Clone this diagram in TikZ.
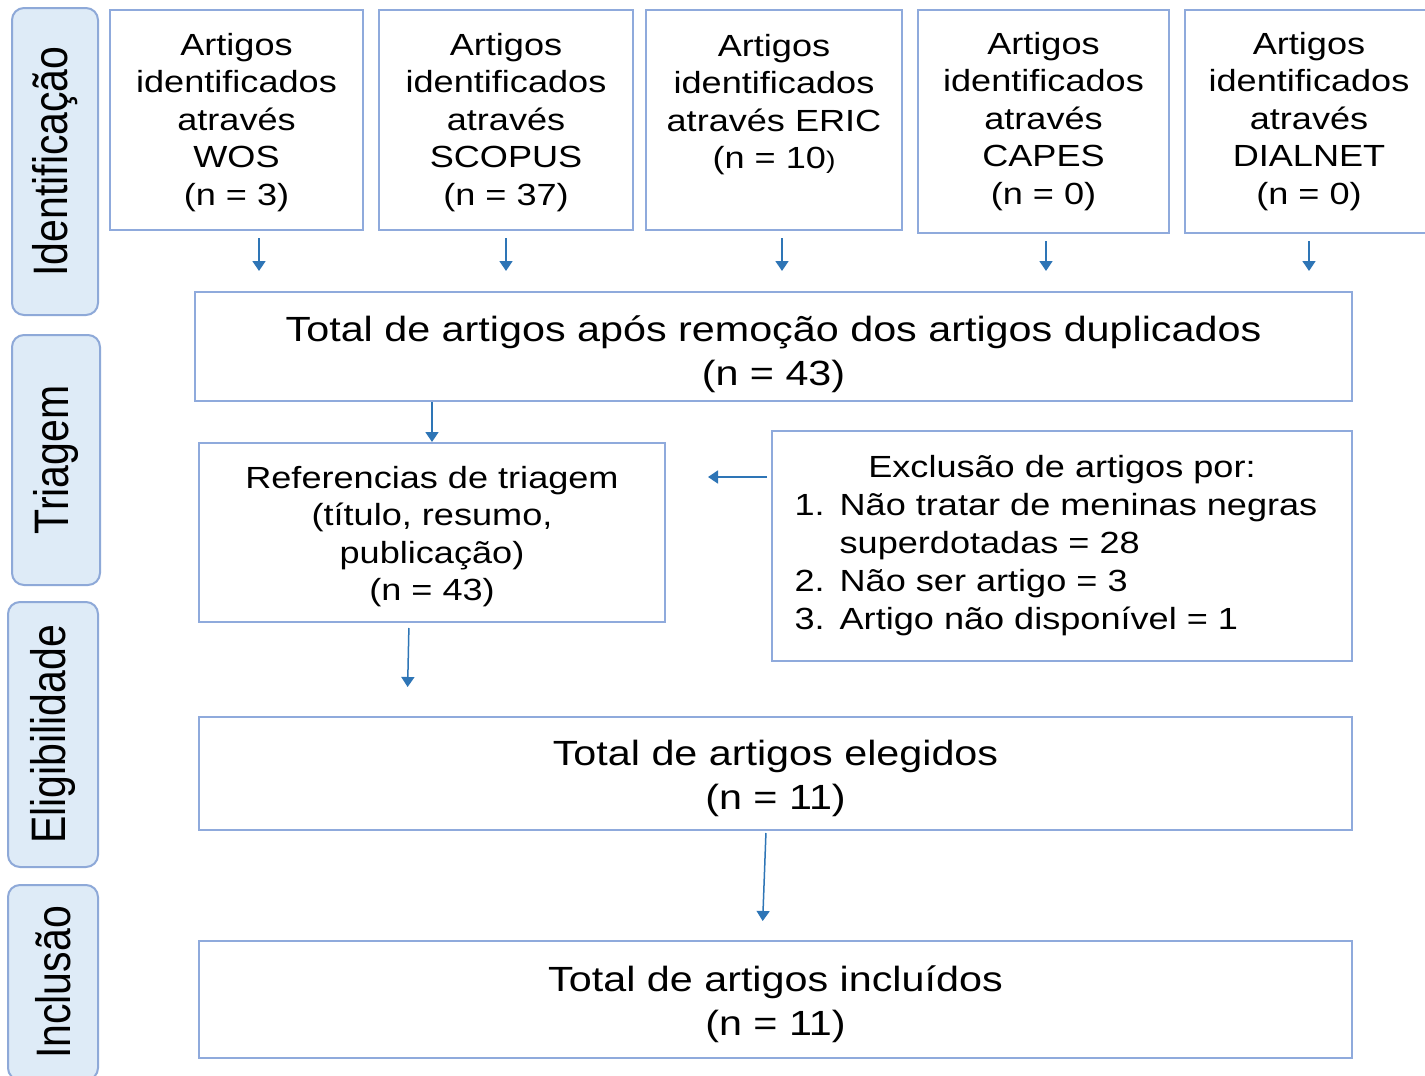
\documentclass[tikz,border=0pt]{standalone}
\usepackage{fontspec}
\setmainfont{Liberation Sans}[FakeStretch=1.18]
\newfontfamily\lblfont{Liberation Sans}
\usetikzlibrary{arrows.meta,calc}
\definecolor{boxc}{HTML}{8FAADC}
\definecolor{arrc}{HTML}{2E75B6}
\definecolor{lblfill}{HTML}{DEEBF7}
\definecolor{lbldraw}{HTML}{8EA9D8}
\newcommand\lbltext[1]{\scalebox{1}[1.18]{\lblfont\fontsize{20.5pt}{24pt}\selectfont #1}}
\newcommand\up[1]{\rule{0pt}{#1}}
\tikzset{
  box/.style={draw=boxc, line width=1pt, fill=white, inner sep=0pt, align=center},
  smallt/.style={font=\fontsize{15.3pt}{18.75pt}\selectfont},
  bigt/.style={font=\fontsize{17.5pt}{22pt}\selectfont},
  phase/.style={draw=lbldraw, fill=lblfill, line width=1pt, rounded corners=6pt, rotate=90, inner sep=0pt},
  arr/.style={draw=arrc, line width=0.75pt, -{Triangle[width=6.5pt,length=5pt]}},
  toparr/.style={arr, shorten <=3.5pt, shorten >=10pt}
}
\begin{document}
\begin{tikzpicture}[x=0.5pt,y=-0.5pt]
\useasboundingbox (0,0) rectangle (1425,1076);
\fill[white] (0,0) rectangle (1425,1076);

% phase labels
\node[phase, minimum width=153.5pt, minimum height=43pt] (p1) at (55,161.5) {\lbltext{Identificação}};
\node[phase, minimum width=125pt, minimum height=44pt] (p2) at (56,460) {\lbltext{Triagem}};
\node[phase, minimum width=132.5pt, minimum height=45pt] (p3) at (53,734.5) {\lbltext{Eligibilidade}};
\node[phase, minimum width=97.5pt, minimum height=45pt] (p4) at (53,982.5) {\lbltext{Inclusão}};

% top boxes
\node[box, smallt, minimum width=126.5pt, minimum height=110pt] (wos) at (236.5,120)
  {\up{13.2pt}Artigos\\identificados\\através\\WOS\\(n = 3)};
\node[box, smallt, minimum width=127pt, minimum height=110pt] (scopus) at (506,120)
  {\up{13.2pt}Artigos\\identificados\\através\\SCOPUS\\(n = 37)};
\node[box, smallt, minimum width=128pt, minimum height=110pt] (eric) at (774,120)
  {Artigos\\identificados\\através ERIC\\(n = 10{\fontsize{12pt}{12pt}\selectfont)}\\\mbox{}};
\node[box, smallt, minimum width=125.5pt, minimum height=111.5pt] (capes) at (1043.5,121.5)
  {Artigos\\identificados\\através\\CAPES\\(n = 0)};
\node[box, smallt, minimum width=124pt, minimum height=111.5pt] (dialnet) at (1309,121.5)
  {Artigos\\identificados\\através\\DIALNET\\(n = 0)};

% total
\node[box, bigt, minimum width=578.5pt, minimum height=54.5pt] (total) at (773.5,346.5)
  {\up{21pt}Total de artigos após remoção dos artigos duplicados\\(n = 43)};

% referencias
\node[box, smallt, minimum width=233pt, minimum height=89.5pt] (ref) at (432,532.5)
  {\up{15.2pt}Referencias de triagem\\(título, resumo,\\publicação)\\(n = 43)};

% exclusao
\node[box, minimum width=290pt, minimum height=115pt, font=\fontsize{15.3pt}{19pt}\selectfont] (excl) at (1062,546)
  {\begin{tabular}{@{}l@{}l@{}l@{}}
   \multicolumn{3}{c}{Exclusão de artigos por:}\\
   \makebox[22.5pt][l]{1.} & Não tratar de meninas negras & \hspace*{6pt}\\
    & superdotadas = 28 & \\
   \makebox[22.5pt][l]{2.} & Não ser artigo = 3 & \\
   \makebox[22.5pt][l]{3.} & Artigo não disponível = 1 &
   \end{tabular}};

% elegidos / incluidos
\node[box, bigt, minimum width=576.5pt, minimum height=56.5pt] (eleg) at (775.5,773.5)
  {\up{17.3pt}Total de artigos elegidos\\(n = 11)};
\node[box, bigt, minimum width=576.5pt, minimum height=58.5pt] (incl) at (775.5,999.5)
  {\up{18pt}Total de artigos incluídos\\(n = 11)};

% arrows from sources
\coordinate (a1) at ($(wos.south)+(22.5,0)$);
\coordinate (a2) at (scopus.south);
\coordinate (a3) at ($(eric.south)+(8,0)$);
\coordinate (a4) at ($(capes.south)+(2.5,0)$);
\coordinate (a5) at (dialnet.south);
\foreach \a in {a1,a2,a3,a4,a5}{
  \draw[toparr] (\a) -- (\a |- total.north);
}

\draw[arr] (ref.north |- total.south) -- (ref.north);

\coordinate (ya) at (0,477);
\draw[arr, shorten <=2pt, shorten >=21pt] (ya -| excl.west) -- (ya -| ref.east);

\draw[arr, shorten <=2.5pt, shorten >=14.5pt] ($(ref.south)+(-23,0)$) -- ($(eleg.north)+(-368.5,0)$);
\draw[arr, shorten <=1pt, shorten >=9.5pt] ($(eleg.south)+(-9.5,0)$) -- ($(incl.north)+(-13.5,0)$);
\end{tikzpicture}
\end{document}
